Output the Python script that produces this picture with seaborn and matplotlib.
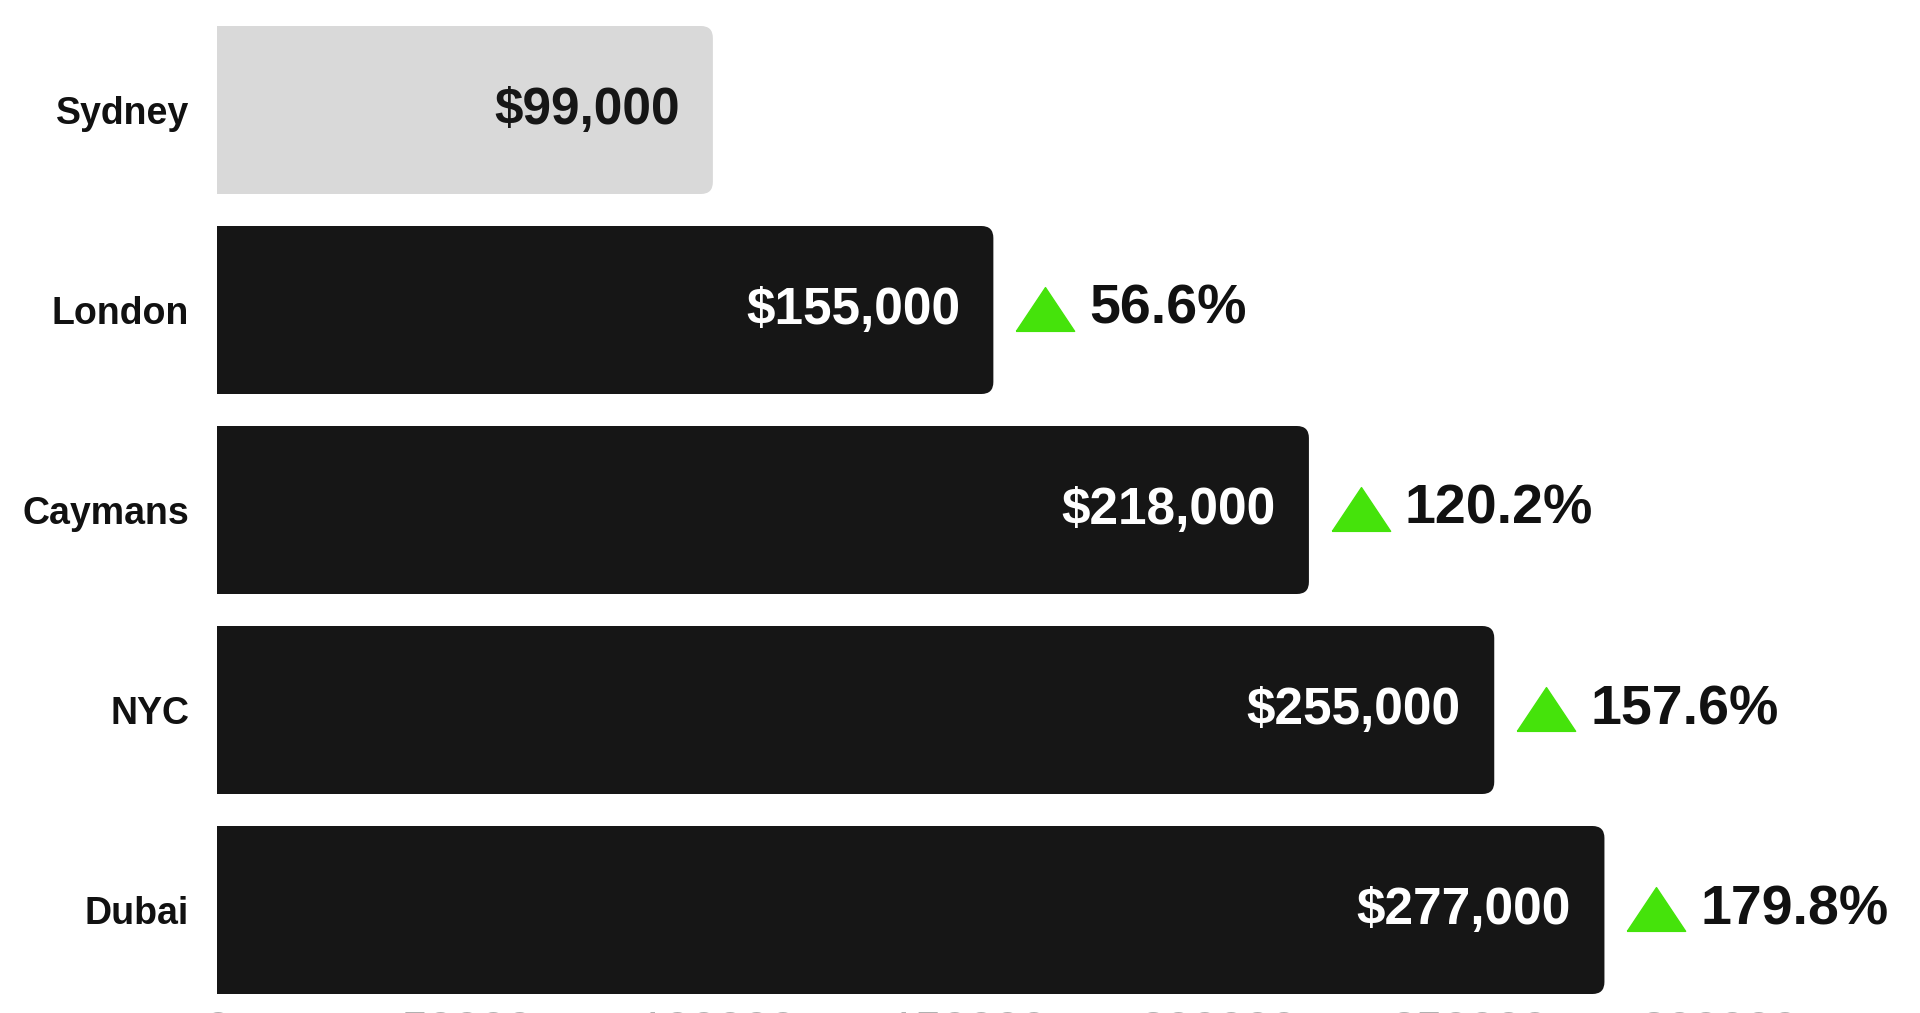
import matplotlib
matplotlib.use("Agg")
import matplotlib.pyplot as plt
import matplotlib.transforms as mtransforms
from matplotlib.patches import FancyBboxPatch
import seaborn as sns
import pandas as pd

# data
cities = ["Sydney", "London", "Caymans", "NYC", "Dubai"]
salaries = [99000, 155000, 218000, 255000, 277000]
pct_change = [None, 56.6, 120.2, 157.6, 179.8]
bar_colors = ["#d9d9d9", "#161616", "#161616", "#161616", "#161616"]
x_ticks = [0, 50000, 100000, 150000, 200000, 250000, 300000]

df = pd.DataFrame({"city": cities, "salary": salaries})

sns.set_style("white")
plt.rcParams["font.family"] = ["Liberation Sans", "DejaVu Sans"]

fig = plt.figure(figsize=(19.2, 10.13), dpi=100)
ax = fig.add_axes([217 / 1920, 13 / 1013, 1 - 217 / 1920, 990 / 1013])

sns.barplot(data=df, x="salary", y="city", hue="city", palette=bar_colors,
            legend=False, width=0.84, ax=ax)

# swap the plain bars for ones with rounded right corners
for p in list(ax.patches):
    x0, y0 = p.get_x(), p.get_y()
    w, h = p.get_width(), p.get_height()
    fc = p.get_facecolor()
    p.remove()
    ax.add_patch(FancyBboxPatch((x0 - 8000, y0), w + 8000, h,
                                boxstyle="round,pad=0,rounding_size=2400",
                                mutation_aspect=0.06 / 2400,
                                facecolor=fc, edgecolor="none", zorder=2))

ax.set_xlim(0, 340000)
ax.set_ylim(4.45, -0.5)
ax.set_xticks(x_ticks)
ax.set_xticklabels([str(t) for t in x_ticks])
ax.tick_params(axis="x", length=0, pad=7, labelsize=34, labelcolor="#b0b0b0")
ax.tick_params(axis="y", length=0, pad=20, labelsize=27)
for lab in ax.get_yticklabels():
    lab.set_fontweight("bold")
    lab.set_color("#111111")
ax.set_xlabel("")
ax.set_ylabel("")
sns.despine(ax=ax, left=True, bottom=True)

tri = [(-1, -0.75), (1, -0.75), (0, 0.75), (-1, -0.75)]
tri_shift = mtransforms.ScaledTranslation(52 / 100, 0, fig.dpi_scale_trans)

for i, (val, pct) in enumerate(zip(salaries, pct_change)):
    txt_color = "#161616" if i == 0 else "white"
    ax.annotate(f"${val:,}", xy=(val, i), xytext=(-24, 0), textcoords="offset points",
                ha="right", va="center", fontsize=37, fontweight="bold",
                color=txt_color, zorder=3)
    if pct is None:
        continue
    ax.plot([val], [i - 0.005], marker=tri, markersize=42, color="#45e30b",
            linestyle="none", transform=ax.transData + tri_shift, clip_on=False, zorder=3)
    ax.annotate(f"{pct}%", xy=(val, i), xytext=(69, 0), textcoords="offset points",
                ha="left", va="center", fontsize=40, fontweight="bold",
                color="#111111", annotation_clip=False, zorder=3)

fig.savefig("out.png", dpi=100)
